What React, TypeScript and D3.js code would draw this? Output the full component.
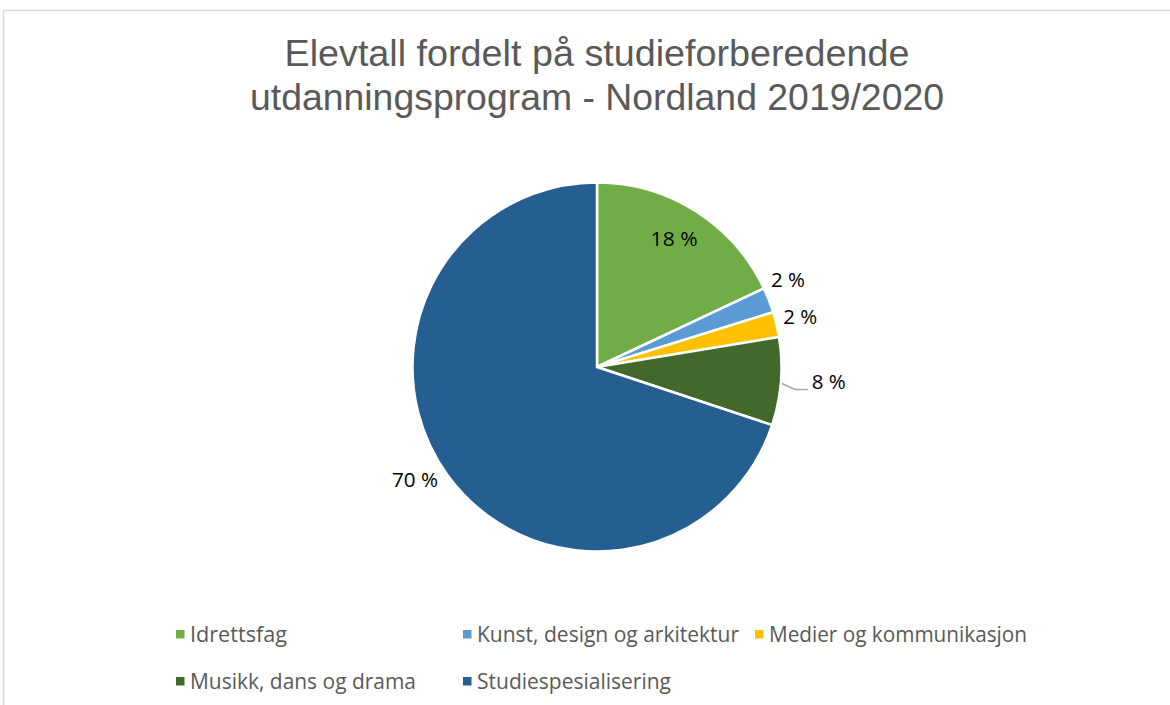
import React from "react";
import * as d3 from "d3";

const categories = [
  "Idrettsfag",
  "Kunst, design og arkitektur",
  "Medier og kommunikasjon",
  "Musikk, dans og drama",
  "Studiespesialisering",
];
const values = [18.0, 2.2, 2.2, 7.7, 69.9];
const labels = ["18 %", "2 %", "2 %", "8 %", "70 %"];
const colors = ["#70AD47", "#5B9BD5", "#FFC000", "#43682B", "#255E91"];
const titleLines = [
  "Elevtall fordelt på studieforberedende",
  "utdanningsprogram - Nordland 2019/2020",
];

const W = 1170;
const H = 705;
const cx = 597;
const cy = 367;
const R = 184.5;

// text widths measured on the reference
const titleWidths = [625, 694];
const labelWidths = [47, 34, 34, 34, 46];
const legendWidths = [97, 262, 258, 226, 194];

export default function App() {
  const pie = d3.pie<number>().sort(null).value((d) => d)(values);
  const arc = d3.arc<d3.PieArcDatum<number>>().innerRadius(0).outerRadius(R);

  const font = "'Open Sans', sans-serif";
  const legendRows = [
    [0, 1, 2],
    [3, 4],
  ];
  const legendX = [176, 463, 755];
  const legendY = [634, 681];

  const pos = (a: number, r: number) => [Math.sin(a) * r, -Math.cos(a) * r];

  // label centres derived from slice mid-angles
  const labelPos = pie.map((d, i) => {
    const mid = (d.startAngle + d.endAngle) / 2;
    if (i === 0) {
      const [x, y] = pos(mid, R * 0.8);
      return [x - 2, y - 4];
    }
    if (i === 1) {
      const [x, y] = pos(mid, R + 14);
      return [x + 6, y - 15];
    }
    if (i === 2) {
      const [x, y] = pos(mid, R + 12);
      return [x + 12, y - 5];
    }
    if (i === 3) {
      const [x, y] = pos(mid, R + 30);
      return [x + 18, y - 2];
    }
    const [x, y] = pos(mid, R + 30);
    return [x - 8, y - 13];
  });

  return (
    <svg width={W} height={H} style={{ position: "absolute", left: 0, top: 0 }}>
      <rect x={0} y={0} width={W} height={H} fill="#fff" />
      <path d={`M3.5,${H} V10.5 H${W}`} fill="none" stroke="#D9D9D9" strokeWidth={1.5} />
      {titleLines.map((t, i) => (
        <text
          key={i}
          x={597}
          y={66 + i * 44}
          textAnchor="middle"
          fontFamily="'Liberation Sans', Arial, sans-serif"
          fontSize={37}
          fill="#595959"
          textLength={titleWidths[i]}
          lengthAdjust="spacingAndGlyphs"
        >
          {t}
        </text>
      ))}
      <g transform={`translate(${cx},${cy})`}>
        {pie.map((d, i) => (
          <path key={i} d={arc(d) || ""} fill={colors[i]} stroke="#fff" strokeWidth={2.5} />
        ))}
        {pie.map((d, i) => (
          <text
            key={i}
            x={labelPos[i][0]}
            y={labelPos[i][1]}
            dy="0.36em"
            textAnchor="middle"
            fontFamily={font}
            fontSize={20}
            fill="#000"
            textLength={labelWidths[i]}
            lengthAdjust="spacingAndGlyphs"
          >
            {labels[i]}
          </text>
        ))}
        {(() => {
          const d = pie[3];
          const mid = (d.startAngle + d.endAngle) / 2;
          const [x1, y1] = pos(mid, R + 1);
          return (
            <polyline
              points={`${x1},${y1 + 2} ${x1 + 13},${y1 + 8} ${x1 + 26},${y1 + 8}`}
              fill="none"
              stroke="#A6A6A6"
              strokeWidth={1.5}
            />
          );
        })()}
      </g>
      {legendRows.map((row, ri) =>
        row.map((ci, k) => (
          <g key={ci} transform={`translate(${legendX[k]},${legendY[ri]})`}>
            <rect x={0} y={-4} width={8.5} height={8.5} fill={colors[ci]} />
            <text
              x={14}
              y={0}
              dy="0.36em"
              fontFamily={font}
              fontSize={21}
              fill="#595959"
              textLength={legendWidths[ci]}
              lengthAdjust="spacingAndGlyphs"
            >
              {categories[ci]}
            </text>
          </g>
        ))
      )}
    </svg>
  );
}
